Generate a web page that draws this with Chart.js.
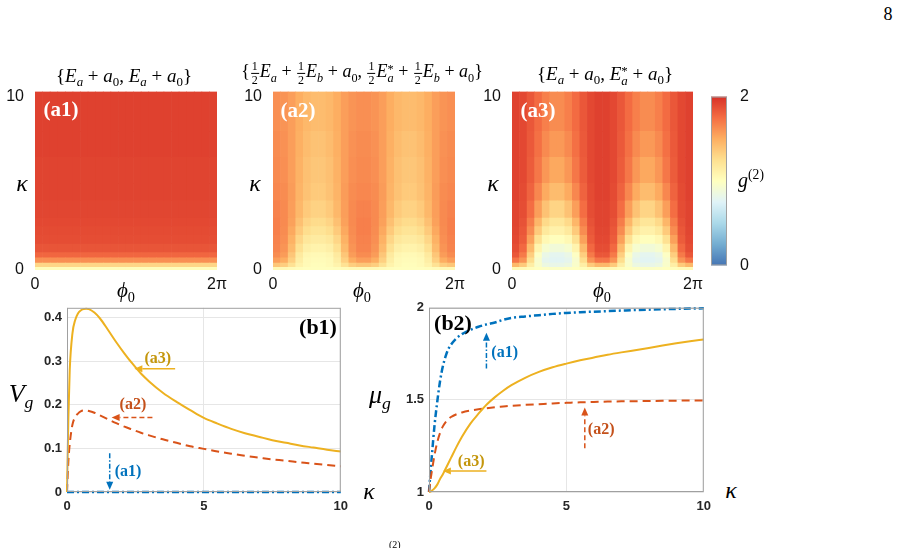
<!DOCTYPE html>
<html>
<head>
<meta charset="utf-8">
<script src="https://cdn.jsdelivr.net/npm/chart.js@4.4.0/dist/chart.umd.min.js"></script>
<style>
  body { margin: 0; background: #fff; width: 900px; height: 548px; overflow: hidden; position: relative;
         font-family: 'Liberation Serif', 'DejaVu Serif', serif; color: #000; }
  .pane { position: absolute; }
  .c { position: absolute; transform: translate(-50%, -50%); white-space: nowrap; line-height: 1; }
  .m { font-style: italic; }
  .fr { display: inline-block; vertical-align: middle; text-align: center; font-size: 12px; line-height: 1.05; margin: 0 1px; }
  .fr span { display: block; padding: 0 1px; }
  .fr span + span { border-top: 1px solid #000; }
  sub, sup { font-size: 0.68em; line-height: 0; }
  .ss { display: inline-block; vertical-align: -0.42em; font-size: 0.68em; line-height: 0.8; text-align: left; }
  .ss span { display: block; }
  .tag { font-weight: bold; font-size: 21px; }
</style>
</head>
<body>

<div class="pane" style="left:0;top:79px"><canvas id="ha1" width="229" height="216"></canvas></div>
<div class="pane" style="left:238px;top:79px"><canvas id="ha2" width="229" height="216"></canvas></div>
<div class="pane" style="left:477px;top:79px"><canvas id="ha3" width="228" height="216"></canvas></div>
<div class="pane" style="left:705px;top:82px"><canvas id="cbar" width="45" height="198"></canvas></div>
<div class="pane" style="left:0;top:295px"><canvas id="b1" width="355" height="225"></canvas></div>
<div class="pane" style="left:370px;top:295px"><canvas id="b2" width="348" height="225"></canvas></div>

<div class="c" style="left:888px;top:14px;font-size:18px">8</div>

<div class="c" style="left:124px;top:75px;font-size:19px">{<span class="m">E</span><sub class="m">a</sub> + <span class="m">a</span><sub>0</sub>, <span class="m">E</span><sub class="m">a</sub> + <span class="m">a</span><sub>0</sub>}</div>
<div class="c" style="left:362px;top:73px;font-size:18px">{<span class="fr"><span>1</span><span>2</span></span><span class="m">E</span><sub class="m">a</sub> + <span class="fr"><span>1</span><span>2</span></span><span class="m">E</span><sub class="m">b</sub> + <span class="m">a</span><sub>0</sub>, <span class="fr"><span>1</span><span>2</span></span><span class="m">E</span><span class="ss"><span>*</span><span class="m">a</span></span> + <span class="fr"><span>1</span><span>2</span></span><span class="m">E</span><sub class="m">b</sub> + <span class="m">a</span><sub>0</sub>}</div>
<div class="c" style="left:605px;top:75px;font-size:19px">{<span class="m">E</span><sub class="m">a</sub> + <span class="m">a</span><sub>0</sub>, <span class="m">E</span><span class="ss"><span>*</span><span class="m">a</span></span> + <span class="m">a</span><sub>0</sub>}</div>

<div class="c tag" style="left:61px;top:109px;color:#fff">(a1)</div>
<div class="c tag" style="left:298px;top:110px;color:#fff">(a2)</div>
<div class="c tag" style="left:538px;top:110px;color:#fff">(a3)</div>

<div class="c m" style="left:22px;top:183px;font-size:24px">κ</div>
<div class="c m" style="left:255px;top:183px;font-size:24px">κ</div>
<div class="c m" style="left:493px;top:183px;font-size:24px">κ</div>

<div class="c" style="left:126px;top:290px;font-size:21px"><span class="m">ϕ</span><sub>0</sub></div>
<div class="c" style="left:362px;top:290px;font-size:21px"><span class="m">ϕ</span><sub>0</sub></div>
<div class="c" style="left:602px;top:290px;font-size:21px"><span class="m">ϕ</span><sub>0</sub></div>

<div class="c" style="left:751px;top:180px;font-size:20px"><span class="m">g</span><sup>(2)</sup></div>

<div class="c" style="left:21px;top:394px;font-size:26px"><span class="m">V</span><sub class="m">g</sub></div>
<div class="c" style="left:380px;top:395px;font-size:26px"><span class="m">μ</span><sub class="m">g</sub></div>
<div class="c m" style="left:369px;top:491px;font-size:24px">κ</div>
<div class="c m" style="left:731px;top:490px;font-size:24px">κ</div>

<div class="c" style="left:318px;top:327px;font-size:22px;font-weight:bold">(b1)</div>
<div class="c" style="left:453px;top:323px;font-size:22px;font-weight:bold">(b2)</div>

<div style="position:absolute;left:389px;top:539px;font-size:10px">(2)</div>

<script>
// heat maps: columns in phi (centres, units of pi), rows in kappa (cell edges)
const phiCols = ['0.04','0.13','0.21','0.29','0.38','0.46','0.54','0.63','0.71','0.79','0.88','0.96',
                 '1.04','1.13','1.21','1.29','1.38','1.46','1.54','1.63','1.71','1.79','1.88','1.96'];
const kappaEdges = [0, 0.15, 0.4, 0.7, 1.0, 1.5, 2.0, 2.5, 3.0, 4.0, 5.0, 6.5, 8.0, 10.3];

// (a1) does not change with phi: one value per kappa row, bottom to top
const a1Profile = [1.02, 1.30, 1.62, 1.78, 1.85, 1.88, 1.89, 1.90, 1.91, 1.92, 1.92, 1.93, 1.93];

// (a2) g2 values, rows bottom (kappa~0) to top
const a2Grid = [
  [1.05,1.05,1.03,1.02,1.01,1.01,1.01,1.01,1.02,1.03,1.05,1.05,1.05,1.05,1.03,1.02,1.01,1.01,1.01,1.01,1.02,1.03,1.05,1.05],
  [1.38,1.34,1.23,1.10,1.04,1.02,1.02,1.04,1.10,1.23,1.34,1.38,1.38,1.34,1.23,1.10,1.04,1.02,1.02,1.04,1.10,1.23,1.34,1.38],
  [1.56,1.50,1.33,1.14,1.05,1.03,1.03,1.05,1.14,1.33,1.50,1.56,1.56,1.50,1.33,1.14,1.05,1.03,1.03,1.05,1.14,1.33,1.50,1.56],
  [1.63,1.57,1.38,1.17,1.07,1.05,1.05,1.07,1.17,1.38,1.57,1.63,1.63,1.57,1.38,1.17,1.07,1.05,1.05,1.07,1.17,1.38,1.57,1.63],
  [1.66,1.60,1.44,1.24,1.13,1.10,1.10,1.13,1.24,1.44,1.60,1.66,1.66,1.60,1.44,1.24,1.13,1.10,1.10,1.13,1.24,1.44,1.60,1.66],
  [1.67,1.62,1.48,1.30,1.19,1.16,1.16,1.19,1.30,1.48,1.62,1.67,1.67,1.62,1.48,1.30,1.19,1.16,1.16,1.19,1.30,1.48,1.62,1.67],
  [1.68,1.63,1.52,1.36,1.26,1.22,1.22,1.26,1.36,1.52,1.63,1.68,1.68,1.63,1.52,1.36,1.26,1.22,1.22,1.26,1.36,1.52,1.63,1.68],
  [1.68,1.64,1.55,1.41,1.31,1.27,1.27,1.31,1.41,1.55,1.64,1.68,1.68,1.64,1.55,1.41,1.31,1.27,1.27,1.31,1.41,1.55,1.64,1.68],
  [1.67,1.64,1.56,1.45,1.36,1.32,1.32,1.36,1.45,1.56,1.64,1.67,1.67,1.64,1.56,1.45,1.36,1.32,1.32,1.36,1.45,1.56,1.64,1.67],
  [1.65,1.63,1.57,1.47,1.40,1.36,1.36,1.40,1.47,1.57,1.63,1.65,1.65,1.63,1.57,1.47,1.40,1.36,1.36,1.40,1.47,1.57,1.63,1.65],
  [1.64,1.62,1.56,1.48,1.41,1.38,1.38,1.41,1.48,1.56,1.62,1.64,1.64,1.62,1.56,1.48,1.41,1.38,1.38,1.41,1.48,1.56,1.62,1.64],
  [1.63,1.61,1.56,1.49,1.43,1.40,1.40,1.43,1.49,1.56,1.61,1.63,1.63,1.61,1.56,1.49,1.43,1.40,1.40,1.43,1.49,1.56,1.61,1.63],
  [1.62,1.60,1.56,1.50,1.45,1.43,1.43,1.45,1.50,1.56,1.60,1.62,1.62,1.60,1.56,1.50,1.45,1.43,1.43,1.45,1.50,1.56,1.60,1.62]
];

// (a3) g2 values, rows bottom (kappa~0) to top
const a3Grid = [
  [1.05,1.04,1.02,1.00,0.98,0.97,0.97,0.98,1.00,1.02,1.04,1.05,1.05,1.04,1.02,1.00,0.98,0.97,0.97,0.98,1.00,1.02,1.04,1.05],
  [1.45,1.36,1.14,0.95,0.85,0.82,0.82,0.85,0.95,1.14,1.36,1.45,1.45,1.36,1.14,0.95,0.85,0.82,0.82,0.85,0.95,1.14,1.36,1.45],
  [1.72,1.60,1.26,0.94,0.80,0.77,0.77,0.80,0.94,1.26,1.60,1.72,1.72,1.60,1.26,0.94,0.80,0.77,0.77,0.80,0.94,1.26,1.60,1.72],
  [1.84,1.70,1.34,0.98,0.83,0.79,0.79,0.83,0.98,1.34,1.70,1.84,1.84,1.70,1.34,0.98,0.83,0.79,0.79,0.83,0.98,1.34,1.70,1.84],
  [1.88,1.77,1.44,1.09,0.93,0.89,0.89,0.93,1.09,1.44,1.77,1.88,1.88,1.77,1.44,1.09,0.93,0.89,0.89,0.93,1.09,1.44,1.77,1.88],
  [1.90,1.82,1.55,1.24,1.06,1.01,1.01,1.06,1.24,1.55,1.82,1.90,1.90,1.82,1.55,1.24,1.06,1.01,1.01,1.06,1.24,1.55,1.82,1.90],
  [1.91,1.84,1.63,1.36,1.18,1.11,1.11,1.18,1.36,1.63,1.84,1.91,1.91,1.84,1.63,1.36,1.18,1.11,1.11,1.18,1.36,1.63,1.84,1.91],
  [1.92,1.86,1.69,1.46,1.28,1.20,1.20,1.28,1.46,1.69,1.86,1.92,1.92,1.86,1.69,1.46,1.28,1.20,1.20,1.28,1.46,1.69,1.86,1.92],
  [1.92,1.88,1.75,1.56,1.40,1.31,1.31,1.40,1.56,1.75,1.88,1.92,1.92,1.88,1.75,1.56,1.40,1.31,1.31,1.40,1.56,1.75,1.88,1.92],
  [1.93,1.89,1.79,1.65,1.51,1.43,1.43,1.51,1.65,1.79,1.89,1.93,1.93,1.89,1.79,1.65,1.51,1.43,1.43,1.51,1.65,1.79,1.89,1.93],
  [1.93,1.90,1.82,1.71,1.59,1.52,1.52,1.59,1.71,1.82,1.90,1.93,1.93,1.90,1.82,1.71,1.59,1.52,1.52,1.59,1.71,1.82,1.90,1.93],
  [1.93,1.90,1.83,1.74,1.64,1.58,1.58,1.64,1.74,1.83,1.90,1.93,1.93,1.90,1.83,1.74,1.64,1.58,1.58,1.64,1.74,1.83,1.90,1.93],
  [1.93,1.90,1.84,1.76,1.68,1.63,1.63,1.68,1.76,1.84,1.90,1.93,1.93,1.90,1.84,1.76,1.68,1.63,1.63,1.68,1.76,1.84,1.90,1.93]
];

// colour bar range
const cbRange = [2];
const cbTicks = [0, 2];

// line plots
const kappa = [0, 0.05, 0.1, 0.2, 0.3, 0.4, 0.5, 0.6, 0.7, 0.8, 1.0, 1.2, 1.5, 1.8, 2.1, 2.4, 2.7, 3.0,
               3.5, 4, 4.5, 5, 5.5, 6, 6.5, 7, 7.5, 8, 8.5, 9, 9.5, 10];
const varA1 = [0,0,0,0,0,0,0,0,0,0,0,0,0,0,0,0,0,0,0,0,0,0,0,0,0,0,0,0,0,0,0,0];
const varA2 = [0, 0.07, 0.11, 0.155, 0.172, 0.18, 0.185, 0.187, 0.187, 0.186, 0.182, 0.176, 0.167, 0.158, 0.150,
               0.143, 0.136, 0.130, 0.121, 0.113, 0.105, 0.099, 0.093, 0.088, 0.083, 0.079, 0.075, 0.072,
               0.068, 0.065, 0.062, 0.059];
const varA3 = [0, 0.17, 0.28, 0.365, 0.395, 0.41, 0.417, 0.42, 0.421, 0.42, 0.412, 0.399, 0.372, 0.344, 0.318,
               0.294, 0.272, 0.254, 0.228, 0.207, 0.188, 0.170, 0.157, 0.145, 0.135, 0.127, 0.119, 0.113,
               0.107, 0.102, 0.097, 0.093];
const muA1 = [1, 1.10, 1.19, 1.36, 1.49, 1.60, 1.68, 1.735, 1.775, 1.80, 1.835, 1.857, 1.88, 1.897, 1.91,
              1.92, 1.935, 1.945, 1.953, 1.96, 1.967, 1.972, 1.976, 1.979, 1.982, 1.985, 1.988, 1.99,
              1.992, 1.994, 1.996, 1.997];
const muA2 = [1, 1.06, 1.11, 1.20, 1.27, 1.32, 1.355, 1.378, 1.395, 1.407, 1.422, 1.432, 1.442, 1.449, 1.455,
              1.46, 1.464, 1.468, 1.473, 1.477, 1.481, 1.484, 1.487, 1.489, 1.491, 1.492, 1.493, 1.494,
              1.495, 1.496, 1.497, 1.497];
const muA3 = [1, 1.002, 1.007, 1.02, 1.04, 1.07, 1.095, 1.125, 1.155, 1.185, 1.245, 1.30, 1.37, 1.425, 1.475,
              1.515, 1.55, 1.58, 1.62, 1.652, 1.677, 1.697, 1.715, 1.73, 1.745, 1.758, 1.77, 1.782,
              1.795, 1.807, 1.818, 1.828];
const kappaTicks = [0, 5, 10];
const varTicks = [0, 0.1, 0.2, 0.3, 0.4];
const muTicks = [1, 1.5, 2];

// RdYlBu style colour map, 0 -> 2
const cmap = ['#4575b4', '#74add1', '#abd9e9', '#e0f3f8', '#ffffbf', '#fee090', '#fdae61', '#f46d43', '#d73027'];
function hexRgb(h) { return [1, 3, 5].map(i => parseInt(h.substr(i, 2), 16)); }
function colorFor(v) {
  const t = Math.max(0, Math.min(2, v)) / 0.25;
  const i = Math.min(cmap.length - 2, Math.floor(t));
  const f = t - i;
  const a = hexRgb(cmap[i]), b = hexRgb(cmap[i + 1]);
  const c = a.map((x, k) => Math.round(x + (b[k] - x) * f));
  return `rgb(${c[0]},${c[1]},${c[2]})`;
}

const sansTick = { family: "'Liberation Sans', Arial, sans-serif", size: 16 };

function heatmap(id, grid) {
  const datasets = grid.map((row, r) => ({
    data: row.map(() => kappaEdges[r + 1] - kappaEdges[r]),
    backgroundColor: row.map(colorFor),
    borderWidth: 0,
    barPercentage: 1,
    categoryPercentage: 1
  }));
  return new Chart(document.getElementById(id), {
    type: 'bar',
    data: { labels: phiCols, datasets: datasets },
    options: {
      responsive: false,
      animation: false,
      layout: { padding: { top: 12, right: 12, left: 0, bottom: 0 } },
      plugins: { legend: { display: false }, tooltip: { enabled: false } },
      scales: {
        x: { stacked: true, display: false },
        xt: {
          type: 'linear', position: 'bottom', min: 0, max: 2 * Math.PI, offset: false,
          grid: { display: false, offset: false }, border: { display: false },
          afterBuildTicks: s => { s.ticks = [{ value: 0 }, { value: 2 * Math.PI }]; },
          afterFit: s => { s.height = 25; },
          ticks: { callback: v => v === 0 ? '0' : '2π', font: sansTick, color: '#111', padding: -3, maxRotation: 0, autoSkip: false }
        },
        y: {
          stacked: true, min: 0, max: 10.3,
          grid: { display: false }, border: { display: false },
          afterBuildTicks: s => { s.ticks = [{ value: 0 }, { value: 10 }]; },
          afterFit: s => { s.width = 35; },
          ticks: { font: sansTick, color: '#111', padding: 3 }
        }
      }
    }
  });
}

heatmap('ha1', a1Profile.map(v => phiCols.map(() => v)));
heatmap('ha2', a2Grid);
heatmap('ha3', a3Grid);

// frame round the plot area
const framePlugin = {
  id: 'frame',
  afterDatasetsDraw(chart) {
    const a = chart.chartArea, ctx = chart.ctx;
    ctx.save();
    ctx.strokeStyle = '#a0a0a0';
    ctx.lineWidth = 1;
    ctx.strokeRect(a.left + 0.5, a.top + 0.5, a.right - a.left - 1, a.bottom - a.top - 1);
    ctx.restore();
  }
};

new Chart(document.getElementById('cbar'), {
  type: 'bar',
  data: {
    labels: ['g2'],
    datasets: [{
      data: cbRange,
      borderWidth: 0,
      barPercentage: 1,
      categoryPercentage: 1,
      backgroundColor: c => {
        const a = c.chart.chartArea;
        if (!a) return '#fff';
        const g = c.chart.ctx.createLinearGradient(0, a.bottom, 0, a.top);
        cmap.forEach((col, i) => g.addColorStop(i / (cmap.length - 1), col));
        return g;
      }
    }]
  },
  options: {
    responsive: false,
    animation: false,
    layout: { padding: { top: 12, left: 6, bottom: 12, right: 0 } },
    plugins: { legend: { display: false }, tooltip: { enabled: false } },
    scales: {
      x: { display: false },
      y: {
        position: 'right', min: 0, max: 2,
        grid: { display: false }, border: { display: false },
        afterBuildTicks: s => { s.ticks = cbTicks.map(v => ({ value: v })); },
        afterFit: s => { s.width = 23; },
        ticks: { font: sansTick, color: '#111', padding: 5 }
      }
    }
  },
  plugins: [framePlugin]
});

// arrows with labels, placed in data units
function notesPlugin(items) {
  return {
    id: 'notes',
    afterDatasetsDraw(chart) {
      const ctx = chart.ctx, sx = chart.scales.x, sy = chart.scales.y;
      items.forEach(n => {
        const x0 = sx.getPixelForValue(n.from[0]), y0 = sy.getPixelForValue(n.from[1]);
        const x1 = sx.getPixelForValue(n.to[0]), y1 = sy.getPixelForValue(n.to[1]);
        const ang = Math.atan2(y1 - y0, x1 - x0), hl = 8, hw = 3.5;
        const cx = Math.cos(ang), sn = Math.sin(ang);
        ctx.save();
        ctx.strokeStyle = n.color;
        ctx.fillStyle = n.color;
        ctx.lineWidth = 1.5;
        ctx.setLineDash(n.dash);
        ctx.beginPath();
        ctx.moveTo(x0, y0);
        ctx.lineTo(x1 - hl * cx, y1 - hl * sn);
        ctx.stroke();
        ctx.setLineDash([]);
        ctx.beginPath();
        ctx.moveTo(x1, y1);
        ctx.lineTo(x1 - hl * cx + hw * sn, y1 - hl * sn - hw * cx);
        ctx.lineTo(x1 - hl * cx - hw * sn, y1 - hl * sn + hw * cx);
        ctx.closePath();
        ctx.fill();
        ctx.fillStyle = n.textColor;
        ctx.font = "bold 16px 'Liberation Serif', serif";
        ctx.textAlign = 'left';
        ctx.textBaseline = 'middle';
        ctx.fillText(n.text, sx.getPixelForValue(n.at[0]), sy.getPixelForValue(n.at[1]));
        ctx.restore();
      });
    }
  };
}

const blue = '#0072BD', orange = '#D95319', yellow = '#EDB120';
const dashA1 = [7, 3, 2, 3], dashA2 = [8, 5];

const b1Notes = [
  { text: '(a3)', at: [2.83, 0.306], from: [3.95, 0.283], to: [2.46, 0.283], color: yellow, textColor: '#c4960c', dash: [] },
  { text: '(a2)', at: [1.92, 0.199], from: [3.12, 0.171], to: [1.63, 0.171], color: orange, textColor: '#c4501a', dash: [5, 3] },
  { text: '(a1)', at: [1.74, 0.046], from: [1.56, 0.089], to: [1.56, 0.005], color: blue, textColor: blue, dash: [5, 2, 1.5, 2] }
];
const b2Notes = [
  { text: '(a1)', at: [2.27, 1.757], from: [2.09, 1.67], to: [2.09, 1.865], color: blue, textColor: blue, dash: [5, 2, 1.5, 2] },
  { text: '(a2)', at: [5.78, 1.335], from: [5.67, 1.238], to: [5.67, 1.459], color: orange, textColor: '#c4501a', dash: [5, 3] },
  { text: '(a3)', at: [1.05, 1.162], from: [2.09, 1.114], to: [0.505, 1.114], color: yellow, textColor: '#c4960c', dash: [] }
];

const boldTick = { family: "'Liberation Sans', Arial, sans-serif", size: 13, weight: 'bold' };

function series(vals, color, dash, width) {
  return {
    data: kappa.map((k, i) => ({ x: k, y: vals[i] })),
    borderColor: color, borderDash: dash, borderWidth: width,
    pointRadius: 0, showLine: true, cubicInterpolationMode: 'monotone', clip: false
  };
}

function linePlot(id, sets, yMin, yMax, yTicks, yPad, notes, yLabel) {
  return new Chart(document.getElementById(id), {
    type: 'scatter',
    data: { datasets: sets },
    options: {
      responsive: false,
      animation: false,
      layout: { padding: { top: 12, right: 12, left: 0, bottom: 0 } },
      plugins: { legend: { display: false }, tooltip: { enabled: false } },
      scales: {
        x: {
          type: 'linear', min: 0, max: 10,
          grid: { color: '#e6e6e6', drawTicks: false }, border: { display: false },
          afterBuildTicks: s => { s.ticks = kappaTicks.map(v => ({ value: v })); },
          afterFit: s => { s.height = 28; },
          ticks: { font: boldTick, color: '#262626', padding: 7, maxRotation: 0 }
        },
        y: {
          min: yMin, max: yMax,
          grid: { color: '#e6e6e6', drawTicks: false }, border: { display: false },
          afterBuildTicks: s => { s.ticks = yTicks.map(v => ({ value: v })); },
          afterFit: s => { s.width = yPad; },
          ticks: { font: boldTick, color: '#262626', padding: 5, callback: yLabel }
        }
      }
    },
    plugins: [framePlugin, notesPlugin(notes)]
  });
}

linePlot('b1', [
  series(varA3, yellow, [], 2),
  series(varA2, orange, dashA2, 2),
  series(varA1, blue, dashA1, 2.5)
], 0, 0.423, varTicks, 67, b1Notes, v => v === 0 ? '0' : v.toFixed(1));

linePlot('b2', [
  series(muA3, yellow, [], 2),
  series(muA2, orange, dashA2, 2),
  series(muA1, blue, dashA1, 2.5)
], 1, 2, muTicks, 59, b2Notes, v => String(v));
</script>
</body>
</html>
